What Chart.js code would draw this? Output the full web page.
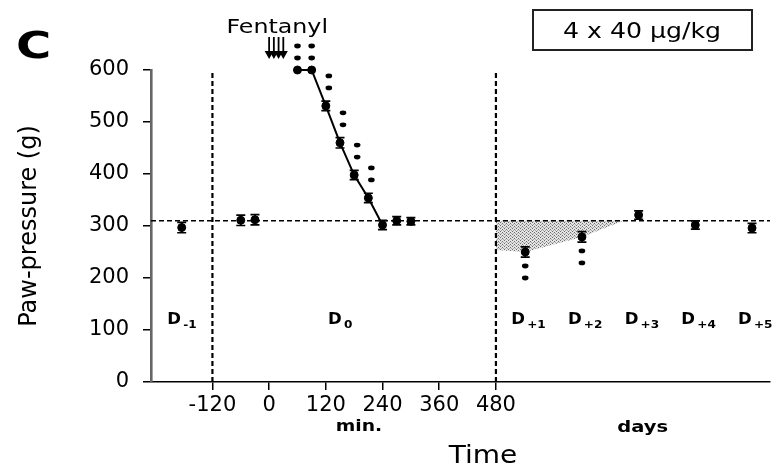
<!DOCTYPE html>
<html><head><meta charset="utf-8">
<script src="https://cdn.jsdelivr.net/npm/chart.js@4.4.1/dist/chart.umd.min.js"></script>
<style>html,body{margin:0;padding:0;background:#fff}#wrap{width:775px;height:468px;position:relative}canvas{display:block}</style>
</head><body><div id="wrap"><canvas id="c" width="775" height="468" style="width:775px;height:468px"></canvas></div>
<script>
// ---- data ----
const baselineValue = 310;                       // pre-drug baseline (g)
const preDayTimes = [-185];                      // D-1 measurement (min scale)
const preDayValues = [297];
const preDaySem = [10];
const d0Times = [-60, -30, 60, 90, 120, 150, 180, 210, 240, 270, 300];
const d0Values = [311, 312, 600, 600, 531, 460, 398, 354, 302, 310, 309];
const d0Sem = [10, 10, 0, 0, 9, 10, 9, 9, 9, 8, 7];
const lineTimes = [60, 90, 120, 150, 180, 210, 240];
const lineValues = [600, 600, 531, 460, 398, 354, 302];
const postDays = [1, 2, 3, 4, 5];
const postValues = [250, 279, 321, 302, 296];
const postSem = [10, 10, 8, 8, 9];
const sigD0Times = [60, 90, 120, 150, 180, 210];
const sigD0Values = [600, 600, 531, 460, 398, 354];
const sigDays = [1, 2];
const sigDayValues = [250, 279];
const shadeStartValue = 254;                     // lower edge of shaded area at 480 min
const doseTimes = [0, 10, 20, 30];
const xTickValues = [-120, 0, 120, 240, 360, 480];
const yTickValues = [0, 100, 200, 300, 400, 500, 600];
const dividerTimes = [-120, 480];
const dayLabels = ['-1', '0', '+1', '+2', '+3', '+4', '+5'];

// day k is drawn after the 480-min divider, one 120-unit slot per day
function dayToX(d) { return 542 + (d - 1) * 120; }

const postTimes = postDays.map(dayToX);
const meanPoints = [
  ...preDayTimes.map((t, i) => ({ x: t, y: preDayValues[i], s: preDaySem[i] })),
  ...d0Times.map((t, i) => ({ x: t, y: d0Values[i], s: d0Sem[i] })),
  ...postTimes.map((t, i) => ({ x: t, y: postValues[i], s: postSem[i] }))
];
const d2 = postValues[1], d3 = postValues[2];
const crossT = postTimes[1] + (postTimes[2] - postTimes[1]) * (baselineValue - d2) / (d3 - d2);
const shadePoints = [
  { x: dividerTimes[1], y: shadeStartValue },
  { x: postTimes[0], y: postValues[0] },
  { x: postTimes[1], y: postValues[1] },
  { x: crossT, y: baselineValue }
];

const pc = document.createElement('canvas');
pc.width = 4; pc.height = 3;
const pctx = pc.getContext('2d');
pctx.fillStyle = '#e4e4e4'; pctx.fillRect(0, 0, 4, 3);
pctx.fillStyle = '#6e6e6e'; pctx.fillRect(0, 0, 1, 1); pctx.fillRect(2, 1, 1, 1);
pctx.fillStyle = '#a8a8a8'; pctx.fillRect(1, 2, 1, 1); pctx.fillRect(3, 2, 1, 1);
const stipple = pctx.createPattern(pc, 'repeat');

function sText(ctx, str, x, y, font, align, sx, baseline) {
  ctx.save();
  ctx.font = font; ctx.textAlign = align; ctx.textBaseline = baseline || 'alphabetic';
  ctx.fillStyle = '#000';
  ctx.translate(x, y); ctx.scale(sx, 1);
  ctx.fillText(str, 0, 0);
  ctx.restore();
}

const decor = {
  id: 'decor',
  afterDatasetsDraw(chart) {
    const ctx = chart.ctx, xs = chart.scales.x, ys = chart.scales.y, ca = chart.chartArea;
    ctx.save();
    ctx.strokeStyle = '#000'; ctx.lineWidth = 1.7;
    meanPoints.forEach(p => {
      if (!p.s) return;
      const px = xs.getPixelForValue(p.x);
      const y1 = ys.getPixelForValue(p.y + p.s), y2 = ys.getPixelForValue(p.y - p.s);
      ctx.beginPath();
      ctx.moveTo(px, y1); ctx.lineTo(px, y2);
      ctx.moveTo(px - 4.5, y1); ctx.lineTo(px + 4.5, y1);
      ctx.moveTo(px - 4.5, y2); ctx.lineTo(px + 4.5, y2);
      ctx.stroke();
    });
    ctx.fillStyle = '#000';
    const star = (x, y) => { ctx.beginPath(); ctx.ellipse(x, y, 3.3, 2.4, 0, 0, Math.PI * 2); ctx.fill(); };
    sigD0Times.forEach((t, i) => {
      const px = xs.getPixelForValue(t), py = ys.getPixelForValue(sigD0Values[i]);
      const plateau = sigD0Values[i] >= 600;
      const dx = plateau ? 0 : 3, o1 = plateau ? 12 : 18;
      star(px + dx, py - o1); star(px + dx, py - o1 - 12);
    });
    sigDays.forEach((d, i) => {
      const px = xs.getPixelForValue(dayToX(d)), py = ys.getPixelForValue(sigDayValues[i]);
      star(px, py + 14); star(px, py + 26);
    });
    ctx.lineWidth = 1.8;
    doseTimes.forEach(t => {
      const px = xs.getPixelForValue(t);
      ctx.beginPath(); ctx.moveTo(px, ca.top - 33); ctx.lineTo(px, ca.top - 17); ctx.stroke();
      ctx.beginPath(); ctx.moveTo(px - 4.5, ca.top - 19); ctx.lineTo(px + 4.5, ca.top - 19); ctx.lineTo(px, ca.top - 11); ctx.closePath(); ctx.fill();
    });
    const fx = xs.getPixelForValue((doseTimes[0] + doseTimes[doseTimes.length - 1]) / 2);
    sText(ctx, 'Fentanyl', fx + 1, ca.top - 37, '19px "DejaVu Sans"', 'center', 1.25);
    ctx.lineWidth = 2; ctx.strokeStyle = '#222';
    ctx.strokeRect(533, 10, 219, 40);
    sText(ctx, '4 x 40 \u00b5g/kg', 642, 38, '21px "DejaVu Sans"', 'center', 1.2);
    sText(ctx, 'C', 16, 58, 'bold 37px "DejaVu Sans"', 'left', 1.3);
    const labelTimes = [-190, 150, ...postTimes];
    labelTimes.forEach((t, i) => {
      const x0 = xs.getPixelForValue(t) - (i < 2 ? 12 : 14), yb = ys.getPixelForValue(0) - 58;
      ctx.save();
      ctx.fillStyle = '#000'; ctx.textAlign = 'left'; ctx.textBaseline = 'alphabetic';
      ctx.font = 'bold 15px "DejaVu Sans"';
      ctx.translate(x0, yb); ctx.scale(1.1, 1);
      ctx.fillText('D', 0, 0);
      const w = ctx.measureText('D').width;
      ctx.font = 'bold 11px "DejaVu Sans"';
      ctx.fillText(dayLabels[i], w + 2, 4);
      ctx.restore();
    });
    sText(ctx, 'min.', xs.getPixelForValue(190), 431, 'bold 15px "DejaVu Sans"', 'center', 1.25);
    sText(ctx, 'days', xs.getPixelForValue(dayToX(3)) + 4, 432, 'bold 15px "DejaVu Sans"', 'center', 1.3);
    sText(ctx, 'Time', 483, 463, '25px "DejaVu Sans"', 'center', 1.12);
    ctx.restore();
  }
};

const tickFont = { family: 'DejaVu Sans', size: 21 };
new Chart(document.getElementById('c'), {
  type: 'scatter',
  data: {
    datasets: [
      { label: 'mean', data: meanPoints, showLine: false, pointStyle: 'circle', pointRadius: 4,
        backgroundColor: '#000', borderColor: '#000', clip: false },
      { label: 'decline', data: lineTimes.map((t, i) => ({ x: t, y: lineValues[i] })), showLine: true,
        borderColor: '#000', borderWidth: 2, pointRadius: 0, clip: false },
      { label: 'baseline', data: [{ x: -250, y: baselineValue }, { x: 1060, y: baselineValue }], showLine: true,
        borderColor: '#000', borderWidth: 1.6, borderDash: [5, 3], pointRadius: 0 },
      ...dividerTimes.map(t => ({ label: 'divider', data: [{ x: t, y: 0 }, { x: t, y: 600 }], showLine: true,
        borderColor: '#000', borderWidth: 2.2, borderDash: [5, 3], pointRadius: 0 })),
      { label: 'shade', data: shadePoints, showLine: true, borderWidth: 0, borderColor: 'rgba(0,0,0,0)',
        pointRadius: 0, backgroundColor: stipple, fill: { value: baselineValue } }
    ]
  },
  options: {
    responsive: false, maintainAspectRatio: false, animation: false, devicePixelRatio: 1,
    layout: { padding: { top: 70, right: 0, bottom: 0, left: 0 } },
    plugins: { legend: { display: false }, tooltip: { enabled: false } },
    scales: {
      x: {
        type: 'linear', min: -250, max: 1060,
        afterBuildTicks: s => { s.ticks = xTickValues.map(v => ({ value: v })); },
        afterFit: s => { s.height = 86; },
        ticks: { font: tickFont, color: '#000', padding: 3, maxRotation: 0, autoSkip: false, callback: v => String(v) },
        grid: { display: true, drawOnChartArea: false, drawTicks: true, tickLength: 8, color: '#000', lineWidth: 1.5 },
        border: { display: true, color: '#000', width: 1.5 }
      },
      y: {
        min: 0, max: 600,
        afterBuildTicks: s => { s.ticks = yTickValues.map(v => ({ value: v })); },
        afterFit: s => { s.width = 151; },
        ticks: { font: tickFont, color: '#000', padding: 14, callback: v => String(v) },
        grid: { display: true, drawOnChartArea: false, drawTicks: true, tickLength: 8, color: '#000', lineWidth: 1.5 },
        border: { display: true, color: '#666', width: 2.6 },
        title: { display: true, text: 'Paw-pressure (g)', color: '#000', font: { family: 'DejaVu Sans', size: 24 }, padding: { top: 15, bottom: 0 } }
      }
    }
  },
  plugins: [decor]
});
</script>
</body></html>
